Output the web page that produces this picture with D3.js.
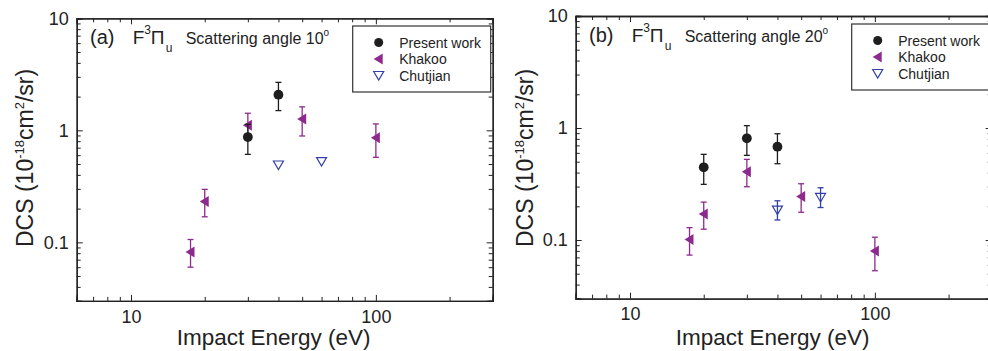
<!DOCTYPE html>
<html>
<head>
<meta charset="utf-8">
<script src="https://cdn.jsdelivr.net/npm/d3@7"></script>
<style>
  body { margin: 0; background: #fff; }
  svg text { font-family: "Liberation Sans", Arial, Helvetica, sans-serif; fill: #222; }
</style>
</head>
<body>
<svg id="chart" width="988" height="351"></svg>
<script>

// tick values
const energyMajor = [10, 100]
const energyMinor = [6, 7, 8, 9, 20, 30, 40, 50, 60, 70, 80, 90, 200, 300]
const dcsMajor = [0.1, 1, 10]
const dcsMinor = [0.03, 0.04, 0.05, 0.06, 0.07, 0.08, 0.09,
   0.2, 0.3, 0.4, 0.5, 0.6, 0.7, 0.8, 0.9,
   2, 3, 4, 5, 6, 7, 8, 9]

// (a) scattering angle 10 deg
const presentA_E = [30, 40]
const presentA = [0.87, 2.08]
const presentA_lo = [0.61, 1.50]
const presentA_hi = [1.13, 2.68]

const khakooA_E = [17.5, 20, 30, 50, 100]
const khakooA = [0.082, 0.232, 1.11, 1.26, 0.86]
const khakooA_lo = [0.060, 0.169, 0.85, 0.89, 0.574]
const khakooA_hi = [0.106, 0.297, 1.42, 1.62, 1.14]

const chutjianA_E = [40, 60]
const chutjianA = [0.49, 0.525]

// (b) scattering angle 20 deg
const presentB_E = [20, 30, 40]
const presentB = [0.446, 0.809, 0.681]
const presentB_lo = [0.314, 0.570, 0.48]
const presentB_hi = [0.582, 1.05, 0.889]

const khakooB_E = [17.5, 20, 30, 50, 100]
const khakooB = [0.101, 0.171, 0.407, 0.245, 0.0797]
const khakooB_lo = [0.0734, 0.125, 0.299, 0.177, 0.0532]
const khakooB_hi = [0.129, 0.218, 0.525, 0.318, 0.106]

const chutjianB_E = [40, 60]
const chutjianB = [0.185, 0.24]
const chutjianB_lo = [0.151, 0.195]
const chutjianB_hi = [0.224, 0.293]

const legendLabels = ["Present work", "Khakoo", "Chutjian"]

const black = "#1e1e1e"
const purple = "#8d2a8d"
const blue = "#3340a6"

function zip(E, v, lo, hi) {
   return E.map(function (e, i) {
      return { e: e, v: v[i], lo: lo ? lo[i] : null, hi: hi ? hi[i] : null }
   })
}

const svg = d3.select("#chart")

const panelW = 416, panelH = 282.6

function drawPanel(opts) {
   let x = d3.scaleLog().domain([6, 300]).range([0, panelW])
   let y = d3.scaleLog().domain([0.03, 10]).range([panelH, 0])

   let g = svg.append("g").attr("transform", "translate(" + opts.left + "," + opts.top + ")")

   // axes: majors with labels, minors without
   function styleAxis(sel) {
      sel.select(".domain").attr("stroke", "#222").attr("stroke-width", 1.3)
      sel.selectAll(".tick line").attr("stroke", "#222").attr("stroke-width", 1)
      sel.selectAll("text").attr("font-size", 18).attr("fill", "#222")
         .attr("font-family", "'Liberation Sans', Arial, sans-serif")
   }

   g.append("g").attr("transform", "translate(0," + panelH + ")")
      .call(d3.axisBottom(x).tickValues(energyMajor).tickFormat(d3.format("d")).tickSize(-6).tickPadding(9))
      .call(styleAxis)
   g.append("g").attr("transform", "translate(0," + panelH + ")")
      .call(d3.axisBottom(x).tickValues(energyMinor).tickFormat("").tickSize(-4))
      .call(styleAxis)
   g.append("g")
      .call(d3.axisTop(x).tickValues(energyMajor).tickFormat("").tickSize(-6))
      .call(styleAxis)
   g.append("g")
      .call(d3.axisTop(x).tickValues(energyMinor).tickFormat("").tickSize(-4))
      .call(styleAxis)

   g.append("g")
      .call(d3.axisLeft(y).tickValues(dcsMajor).tickFormat(function (d) { return d < 1 ? "0.1" : String(d) }).tickSize(-6).tickPadding(8))
      .call(styleAxis)
   g.append("g")
      .call(d3.axisLeft(y).tickValues(dcsMinor).tickFormat("").tickSize(-4))
      .call(styleAxis)
   g.append("g").attr("transform", "translate(" + panelW + ",0)")
      .call(d3.axisRight(y).tickValues(dcsMajor).tickFormat("").tickSize(-6))
      .call(styleAxis)
   g.append("g").attr("transform", "translate(" + panelW + ",0)")
      .call(d3.axisRight(y).tickValues(dcsMinor).tickFormat("").tickSize(-4))
      .call(styleAxis)

   // axis titles
   g.append("text")
      .attr("x", panelW / 2 - 11)
      .attr("y", 345 - opts.top)
      .attr("text-anchor", "middle")
      .attr("font-size", 22.5)
      .text("Impact Energy (eV)")

   let yt = g.append("text")
      .attr("transform", "translate(" + (33.5 - 76.7) + "," + (247 - opts.top) + ") rotate(-90)")
      .attr("text-anchor", "start")
      .attr("font-size", 23)
   yt.append("tspan").text("DCS (10")
   yt.append("tspan").attr("dy", -9).attr("font-size", 13).text("-18")
   yt.append("tspan").attr("dy", 9).text("cm")
   yt.append("tspan").attr("dy", -9).attr("font-size", 13).text("2")
   yt.append("tspan").attr("dy", 9).text("/sr)")

   // annotation
   let base = 25.8
   g.append("text").attr("x", 13.3).attr("y", base).attr("font-size", 20).text(opts.tag)
   g.append("text").attr("x", 56).attr("y", base).attr("font-size", 19).text("F")
   g.append("text").attr("x", 67.5).attr("y", base - 10).attr("font-size", 12).text("3")
   g.append("text").attr("x", 74).attr("y", base).attr("font-size", 19).text("\u03A0")
   g.append("text").attr("x", 89).attr("y", base + 8).attr("font-size", 12).text("u")
   let sa = g.append("text").attr("x", 109).attr("y", base).attr("font-size", 16)
   sa.append("tspan").text("Scattering angle " + opts.angle)
   sa.append("tspan").attr("dy", -8).attr("font-size", 10).text("o")

   // markers
   let tri = d3.symbol().type({ draw: function (ctx) { ctx.moveTo(-5, 0); ctx.lineTo(4, -5.5); ctx.lineTo(4, 5.5); ctx.closePath() } })
   let dtri = d3.symbol().type({ draw: function (ctx) { ctx.moveTo(-5, -4); ctx.lineTo(5, -4); ctx.lineTo(0, 4.5); ctx.closePath() } })

   function errorBars(data, color) {
      let eb = g.append("g").attr("stroke", color).attr("stroke-width", 1.3)
      data.filter(function (d) { return d.lo != null }).forEach(function (d) {
         let cx = x(d.e)
         eb.append("line").attr("x1", cx).attr("x2", cx).attr("y1", y(d.lo)).attr("y2", y(d.hi))
         eb.append("line").attr("x1", cx - 3).attr("x2", cx + 3).attr("y1", y(d.lo)).attr("y2", y(d.lo))
         eb.append("line").attr("x1", cx - 3).attr("x2", cx + 3).attr("y1", y(d.hi)).attr("y2", y(d.hi))
      })
   }

   errorBars(opts.khakoo, purple)
   g.selectAll("path.khakoo").data(opts.khakoo).join("path")
      .attr("class", "khakoo")
      .attr("d", tri)
      .attr("transform", function (d) { return "translate(" + x(d.e) + "," + y(d.v) + ")" })
      .attr("fill", purple)

   errorBars(opts.present, black)
   g.selectAll("circle.present").data(opts.present).join("circle")
      .attr("class", "present")
      .attr("cx", function (d) { return x(d.e) })
      .attr("cy", function (d) { return y(d.v) })
      .attr("r", 4.9)
      .attr("fill", black)

   errorBars(opts.chutjian, blue)
   g.selectAll("path.chutjian").data(opts.chutjian).join("path")
      .attr("class", "chutjian")
      .attr("d", dtri)
      .attr("transform", function (d) { return "translate(" + x(d.e) + "," + y(d.v) + ")" })
      .attr("fill", "none")
      .attr("stroke", blue)
      .attr("stroke-width", 1.2)

   // legend
   let lg = g.append("g").attr("transform", "translate(276," + opts.legendTop + ")")
   lg.append("rect").attr("width", 138).attr("height", 66)
      .attr("fill", "#fff").attr("stroke", "#333").attr("stroke-width", 1.2)
   let rows = [16.5, 33, 49.5]
   lg.append("circle").attr("cx", 26).attr("cy", rows[0]).attr("r", 4.5).attr("fill", black)
   lg.append("path").attr("d", tri).attr("transform", "translate(26," + rows[1] + ")").attr("fill", purple)
   lg.append("path").attr("d", dtri).attr("transform", "translate(26," + rows[2] + ")")
      .attr("fill", "none").attr("stroke", blue).attr("stroke-width", 1.2)
   lg.selectAll("text").data(legendLabels).join("text")
      .attr("x", 46.5)
      .attr("y", function (d, i) { return rows[i] + 5 })
      .attr("font-size", 14)
      .text(function (d) { return d })
}

drawPanel({
   left: 76.7, top: 18.3, tag: "(a)", angle: "10", legendTop: 7.7,
   present: zip(presentA_E, presentA, presentA_lo, presentA_hi),
   khakoo: zip(khakooA_E, khakooA, khakooA_lo, khakooA_hi),
   chutjian: zip(chutjianA_E, chutjianA)
})

drawPanel({
   left: 575.7, top: 16, tag: "(b)", angle: "20", legendTop: 8,
   present: zip(presentB_E, presentB, presentB_lo, presentB_hi),
   khakoo: zip(khakooB_E, khakooB, khakooB_lo, khakooB_hi),
   chutjian: zip(chutjianB_E, chutjianB, chutjianB_lo, chutjianB_hi)
})

</script>
</body>
</html>
